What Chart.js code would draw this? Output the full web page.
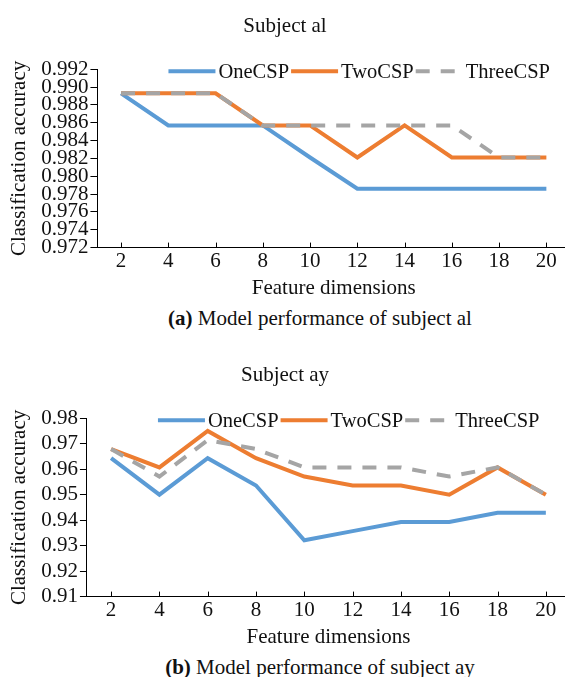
<!DOCTYPE html>
<html>
<head>
<meta charset="utf-8">
<script src="https://cdn.jsdelivr.net/npm/chart.js@4/dist/chart.umd.min.js"></script>
<style>
    html, body { margin: 0; padding: 0; background: #fff; }
    body { width: 565px; height: 677px; overflow: hidden; position: relative; }
    .panel { position: absolute; left: 0; }
    .caption {
        position: absolute; left: 0; width: 640px; text-align: center;
        font-family: "Times New Roman", "Liberation Serif", Tinos, serif;
        font-size: 21px; line-height: 25px; color: #111;
    }
</style>
</head>
<body>
<div class="panel" style="top:0px"><canvas id="chartA" width="570" height="302"></canvas></div>
<div class="caption" style="top:306px"><b>(a)</b> Model performance of subject al</div>
<div class="panel" style="top:349px"><canvas id="chartB" width="570" height="302"></canvas></div>
<div class="caption" style="top:655px"><b>(b)</b> Model performance of subject ay</div>

<script>
// Feature dimensions (x categories)
const dims = ['2', '4', '6', '8', '10', '12', '14', '16', '18', '20'];
const seriesNames = ['OneCSP', 'TwoCSP', 'ThreeCSP'];

// Subject al
const alOne = [0.9893, 0.9857, 0.9857, 0.9857, 0.9821, 0.9786, 0.9786, 0.9786, 0.9786, 0.9786];
const alTwo = [0.9893, 0.9893, 0.9893, 0.9857, 0.9857, 0.9821, 0.9857, 0.9821, 0.9821, 0.9821];
const alThree = [0.9893, 0.9893, 0.9893, 0.9857, 0.9857, 0.9857, 0.9857, 0.9857, 0.9821, 0.9821];
const alTicks = [0.972, 0.974, 0.976, 0.978, 0.980, 0.982, 0.984, 0.986, 0.988, 0.990, 0.992];

// Subject ay
const ayOne = [0.9643, 0.9500, 0.9643, 0.9536, 0.9321, 0.9357, 0.9393, 0.9393, 0.9429, 0.9429];
const ayTwo = [0.9679, 0.9607, 0.9750, 0.9643, 0.9571, 0.9536, 0.9536, 0.9500, 0.9607, 0.9500];
const ayThree = [0.9679, 0.9571, 0.9714, 0.9679, 0.9607, 0.9607, 0.9607, 0.9571, 0.9607, 0.9500];
const ayTicks = [0.91, 0.92, 0.93, 0.94, 0.95, 0.96, 0.97, 0.98];

const FONT = '"Times New Roman", "Liberation Serif", Tinos, serif';
const TEXT = '#111';

// Legend drawn inside the plot area, line samples with text right after
const lineLegend = {
    id: 'lineLegend',
    afterDraw(chart) {
        const ctx = chart.ctx;
        const area = chart.chartArea;
        let x = area.left + 71;
        const y = area.top + 2;
        ctx.save();
        ctx.font = '20.5px ' + FONT;
        ctx.textBaseline = 'middle';
        chart.data.datasets.forEach(ds => {
            ctx.strokeStyle = ds.borderColor;
            ctx.lineWidth = ds.borderWidth;
            ctx.setLineDash(ds.borderDash || []);
            ctx.beginPath();
            ctx.moveTo(x, y);
            ctx.lineTo(x + 47, y);
            ctx.stroke();
            ctx.setLineDash([]);
            x += 50;
            ctx.fillStyle = TEXT;
            ctx.fillText(ds.label, x, y + 1);
            x += ctx.measureText(ds.label).width + 2;
        });
        ctx.restore();
    }
};

// Small tick marks pointing up into the plot on the x axis
const innerTicks = {
    id: 'innerTicks',
    afterDraw(chart) {
        const xs = chart.scales.x;
        const ctx = chart.ctx;
        const bottom = chart.chartArea.bottom;
        ctx.save();
        ctx.strokeStyle = '#000';
        ctx.lineWidth = 1;
        xs.ticks.forEach((t, i) => {
            const px = Math.round(xs.getPixelForTick(i)) + 0.5;
            ctx.beginPath();
            ctx.moveTo(px, bottom);
            ctx.lineTo(px, bottom - 5);
            ctx.stroke();
        });
        ctx.restore();
    }
};

function makeChart(id, title, one, two, three, yTicks, decimals) {
    const ctx = document.getElementById(id);
    return new Chart(ctx, {
        type: 'line',
        data: {
            labels: dims,
            datasets: [
                { label: seriesNames[0], data: one, borderColor: '#5B9BD5', borderWidth: 4, order: 2 },
                { label: seriesNames[1], data: two, borderColor: '#ED7D31', borderWidth: 4, order: 1 },
                { label: seriesNames[2], data: three, borderColor: '#A5A5A5', borderWidth: 4, borderDash: [14, 11], order: 0 }
            ]
        },
        options: {
            responsive: false,
            animation: false,
            layout: { padding: { left: 0, right: 0, top: 0, bottom: 0 } },
            elements: {
                point: { radius: 0, hoverRadius: 0 },
                line: { tension: 0, fill: false, borderCapStyle: 'butt', borderJoinStyle: 'miter' }
            },
            plugins: {
                legend: { display: false },
                tooltip: { enabled: false },
                title: {
                    display: true,
                    text: title,
                    color: TEXT,
                    font: { family: FONT, size: 21, weight: 'normal' },
                    padding: { top: 14, bottom: 30 }
                }
            },
            scales: {
                x: {
                    type: 'category',
                    offset: true,
                    grid: { display: false, drawTicks: false },
                    border: { display: true, color: '#000', width: 1 },
                    ticks: { color: TEXT, padding: 1, maxRotation: 0, autoSkip: false, font: { family: FONT, size: 21 } },
                    title: {
                        display: true,
                        text: 'Feature dimensions',
                        color: TEXT,
                        font: { family: FONT, size: 21 },
                        padding: { top: 1, bottom: 1 }
                    }
                },
                y: {
                    min: yTicks[0],
                    max: yTicks[yTicks.length - 1],
                    afterBuildTicks: scale => {
                        scale.ticks = yTicks.map(v => ({ value: v }));
                    },
                    grid: { display: true, drawOnChartArea: false, drawTicks: true, tickLength: 7, color: '#000' },
                    border: { display: true, color: '#000', width: 1 },
                    ticks: {
                        color: TEXT,
                        padding: 2,
                        autoSkip: false,
                        font: { family: FONT, size: 21 },
                        callback: value => Number(value).toFixed(decimals)
                    },
                    title: {
                        display: true,
                        text: 'Classification accuracy',
                        color: TEXT,
                        font: { family: FONT, size: 21 },
                        padding: { top: 7, bottom: 7 }
                    }
                }
            }
        },
        plugins: [innerTicks, lineLegend]
    });
}

makeChart('chartA', 'Subject al', alOne, alTwo, alThree, alTicks, 3);
makeChart('chartB', 'Subject ay', ayOne, ayTwo, ayThree, ayTicks, 2);
</script>
</body>
</html>
